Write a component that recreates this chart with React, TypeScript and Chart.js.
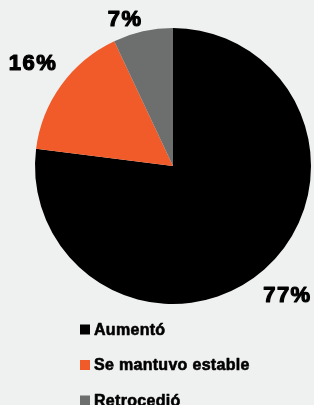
import React, { useEffect, useRef } from "react";
import { Chart, registerables } from "chart.js";

Chart.register(...registerables);

const categories: string[] = ["Aumentó", "Se mantuvo estable", "Retrocedió"];
const values: number[] = [77, 16, 7];
const valueLabels: string[] = ["77%", "16%", "7%"];
const colors: string[] = ["#000000", "#f15a29", "#6d6e6e"];

const BG = "#eff0f0";

const outsideLabels = {
  id: "outsideLabels",
  afterDatasetsDraw(chart: any, _args: any, opts: any) {
    const ctx = chart.ctx as CanvasRenderingContext2D;
    const meta = chart.getDatasetMeta(0);
    ctx.save();
    ctx.font = "bold 22px 'Liberation Sans', Arial, sans-serif";
    (ctx as any).letterSpacing = "1.5px";
    ctx.fillStyle = "#000";
    ctx.strokeStyle = "#000";
    ctx.lineWidth = 1.2;
    ctx.lineJoin = "round";
    ctx.textAlign = "center";
    ctx.textBaseline = "middle";
    meta.data.forEach((arc: any, i: number) => {
      const mid = (arc.startAngle + arc.endAngle) / 2;
      const dist = arc.outerRadius + opts.gap;
      let x = arc.x + Math.cos(mid) * dist;
      let y = arc.y + Math.sin(mid) * dist;
      if (y < opts.minY) {
        y = opts.minY;
        x += opts.clampShiftX;
      }
      ctx.fillText(valueLabels[i], x, y);
      ctx.strokeText(valueLabels[i], x, y);
    });
    ctx.restore();
  },
};

const listLegend = {
  id: "listLegend",
  afterDraw(chart: any, _args: any, opts: any) {
    const ctx = chart.ctx as CanvasRenderingContext2D;
    ctx.save();
    ctx.font = "bold 16px 'Liberation Sans', Arial, sans-serif";
    (ctx as any).letterSpacing = "0.3px";
    ctx.textBaseline = "middle";
    ctx.textAlign = "left";
    ctx.lineWidth = 0.6;
    ctx.lineJoin = "round";
    categories.forEach((c, i) => {
      const cy = opts.top + i * opts.rowGap;
      ctx.fillStyle = colors[i];
      ctx.fillRect(opts.left, cy - opts.box / 2, opts.box, opts.box);
      ctx.fillStyle = "#000";
      ctx.strokeStyle = "#000";
      ctx.fillText(c, opts.left + opts.box + 4, cy + 1);
      ctx.strokeText(c, opts.left + opts.box + 4, cy + 1);
    });
    ctx.restore();
  },
};

export default function App() {
  const ref = useRef<HTMLCanvasElement | null>(null);
  useEffect(() => {
    document.body.style.margin = "0";
    document.body.style.background = BG;
    if (!ref.current) return;
    const chart = new Chart(ref.current, {
      type: "pie",
      data: {
        labels: categories,
        datasets: [
          {
            data: values,
            backgroundColor: colors,
            borderWidth: 0,
          },
        ],
      },
      options: {
        animation: false,
        responsive: false,
        devicePixelRatio: 1,
        layout: { padding: { left: 35, right: 3, top: 28, bottom: 101 } },
        plugins: {
          legend: { display: false },
          tooltip: { enabled: false },
          outsideLabels: { gap: 35, minY: 20, clampShiftX: -10 },
          listLegend: { left: 80, top: 329.5, rowGap: 35.5, box: 10 },
        } as any,
      },
      plugins: [outsideLabels, listLegend],
    });
    return () => chart.destroy();
  }, []);
  return (
    <div style={{ position: "absolute", left: 0, top: 0, width: 314, height: 405, background: BG }}>
      <canvas ref={ref} width={314} height={405} style={{ display: "block" }} />
    </div>
  );
}
